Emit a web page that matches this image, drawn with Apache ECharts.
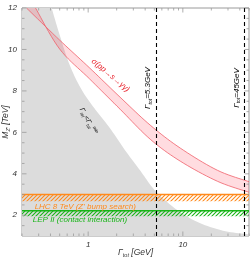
<!DOCTYPE html>
<html><head><meta charset="utf-8">
<script src="https://cdn.jsdelivr.net/npm/echarts@6/dist/echarts.min.js"></script>
<style>html,body{margin:0;padding:0;background:#fff}#c{width:250px;height:258px}</style>
</head><body><div id="c"></div>
<script>
// axis ranges
const xMin = 0.2, xMax = 50, yMin = 1, yMax = 12;
// tick positions
const xMajorTicks = [1, 10];
const xMinorTicks = [0.2,0.3,0.4,0.5,0.6,0.7,0.8,0.9,2,3,4,5,6,7,8,9,20,30,40,50];
const yMajorTicks = [2,4,6,8,10,12];
const yMinorTicks = [1.5,2.5,3,3.5,4.5,5,5.5,6.5,7,7.5,8.5,9,9.5,10.5,11,11.5];
// sigma(pp->s->gg) band
const bandUpperX = [0.223,0.50,1.04,2.17,4.52,9.40,23.2,50];
const bandUpperY = [12,10.45,9.10,7.70,6.35,5.24,4.17,3.62];
const bandLowerX = [0.278,0.50,1.04,2.17,4.52,9.40,23.2,50];
const bandLowerY = [12,10.02,8.57,7.12,5.67,4.61,3.64,3.11];
// Gamma_tot < Gamma_min boundary
const grayX = [0.411,0.500,0.638,0.857,1.205,1.70,2.45,3.53,4.85,6.51,9.40,15.3,28.2,50];
const grayY = [12,10.70,9.25,8.04,7.07,6.20,5.14,4.17,3.30,2.72,2.15,1.61,1.23,1.08];
// exclusion limits [line, hatch bottom]
const lhcLimit = [3.0, 2.68];
const lepLimit = [2.22, 1.95];
// width reference lines
const widthLines = [5.3, 45];

const FONT = '"Liberation Sans", Arial, sans-serif';

function spline(pts, seg) {
  if (pts.length < 3) return pts;
  const out = [];
  for (let i = 0; i < pts.length - 1; i++) {
    const p0 = pts[Math.max(i-1,0)], p1 = pts[i], p2 = pts[i+1], p3 = pts[Math.min(i+2,pts.length-1)];
    for (let t = 0; t < seg; t++) {
      const s = t/seg, s2 = s*s, s3 = s2*s;
      const f = k => 0.5*((2*p1[k]) + (-p0[k]+p2[k])*s + (2*p0[k]-5*p1[k]+4*p2[k]-p3[k])*s2 + (-p0[k]+3*p1[k]-3*p2[k]+p3[k])*s3);
      out.push([f(0), f(1)]);
    }
  }
  out.push(pts[pts.length-1]);
  return out;
}
function hatch(color) {
  const c = document.createElement('canvas'); c.width = 4; c.height = 4;
  const g = c.getContext('2d'); g.strokeStyle = color; g.lineWidth = 1.1;
  g.beginPath();
  g.moveTo(0,4); g.lineTo(4,0);
  g.moveTo(-1,1); g.lineTo(1,-1);
  g.moveTo(3,5); g.lineTo(5,3);
  g.stroke();
  return c;
}
const orange = '#ff8a1c', green = '#17b417';
const orangeHatch = hatch(orange), greenHatch = hatch(green);

const chart = echarts.init(document.getElementById('c'));
const sub = {fontSize: 5.5, fontStyle:'italic', fontFamily: FONT, color:'#333', verticalAlign:'bottom', lineHeight: 10, padding:[3,0,0,0]};
const main = {fontSize: 8.5, fontStyle:'italic', fontFamily: FONT, color:'#333', lineHeight: 10};

chart.setOption({
  animation: false,
  grid: {left: 22, right: 1, top: 8, bottom: 22, containLabel: false, outerBoundsMode: 'none',
         show: true, borderColor: '#9a9a9a', borderWidth: 1},
  xAxis: {
    type: 'log', min: xMin, max: xMax, logBase: 10,
    axisLine: {show: false}, axisTick: {show: false}, splitLine: {show: false},
    axisLabel: {
      margin: 5, fontSize: 8, fontStyle: 'italic', fontFamily: FONT, color: '#333',
      showMinLabel: false, showMaxLabel: false,
      formatter: v => xMajorTicks.some(t => Math.abs(t - v) < 1e-6 * t) ? String(Math.round(v)) : ''
    },
    name: '{g|Γ}{s|tot}{g| [GeV]}', nameLocation: 'middle', nameGap: 12, nameMoveOverlap: false,
    nameTextStyle: {rich: {g: main, s: sub}}
  },
  yAxis: {
    type: 'value', min: yMin, max: yMax, interval: 1,
    axisLine: {show: false}, axisTick: {show: false}, splitLine: {show: false},
    axisLabel: {
      margin: 5, fontSize: 8, fontStyle: 'italic', fontFamily: FONT, color: '#333',
      formatter: v => yMajorTicks.indexOf(v) >= 0 ? String(v) : ''
    },
    name: '{g|M}{s|Z′}{g| [TeV]}', nameLocation: 'middle', nameGap: 11, nameMoveOverlap: false,
    nameTextStyle: {rich: {g: main, s: sub}}
  },
  series: [
    { // gray region
      type: 'custom', clip: true, z: 1, data: [[xMin, yMin]],
      renderItem: (p, api) => {
        const edge = spline(grayX.map((x,i) => api.coord([x, grayY[i]])), 10);
        const pts = [api.coord([xMin, yMax])].concat(edge, [api.coord([xMax, yMin]), api.coord([xMin, yMin])]);
        return {type: 'polygon', shape: {points: pts}, style: {fill: '#dcdcdc'}};
      }
    },
    { // hatched limits
      type: 'custom', clip: true, z: 2, data: [[xMin, yMin]],
      renderItem: (p, api) => {
        const els = [];
        [[lhcLimit, orange, orangeHatch], [lepLimit, green, greenHatch]].forEach(([lim, col, pat]) => {
          const a = api.coord([xMin, lim[0]]), b = api.coord([xMax, lim[1]]);
          els.push({type: 'rect', shape: {x: a[0], y: a[1], width: b[0]-a[0], height: b[1]-a[1]},
                    style: {fill: {image: pat, repeat: 'repeat'}}});
          els.push({type: 'line', shape: {x1: a[0], y1: a[1], x2: b[0], y2: a[1]},
                    style: {stroke: col, lineWidth: 1.6}});
        });
        return {type: 'group', children: els};
      }
    },
    { // sigma band
      type: 'custom', clip: true, z: 3, data: [[xMin, yMin]],
      renderItem: (p, api) => {
        const up = spline(bandUpperX.map((x,i) => api.coord([x, bandUpperY[i]])), 10);
        const lo = spline(bandLowerX.map((x,i) => api.coord([x, bandLowerY[i]])), 10);
        return {type: 'group', children: [
          {type: 'polygon', shape: {points: up.concat(lo.slice().reverse())}, style: {fill: 'rgba(255,40,60,0.16)'}},
          {type: 'polyline', shape: {points: up}, style: {stroke: '#f0606a', lineWidth: 0.8, fill: null}},
          {type: 'polyline', shape: {points: lo}, style: {stroke: '#f0606a', lineWidth: 0.8, fill: null}}
        ]};
      }
    },
    { // dashed width lines
      type: 'line', data: [], z: 4,
      markLine: {
        silent: true, symbol: 'none', label: {show: false},
        lineStyle: {color: '#000', type: [4, 3], width: 1.1},
        data: widthLines.map(v => ({xAxis: v}))
      }
    },
    { // ticks
      type: 'custom', clip: false, z: 5, data: [[xMin, yMin]],
      renderItem: (p, api) => {
        const els = [];
        const st = {stroke: '#9a9a9a', lineWidth: 0.8};
        const yb = api.coord([xMin, yMin])[1], yt = api.coord([xMin, yMax])[1];
        const xl = api.coord([xMin, yMin])[0], xr = api.coord([xMax, yMin])[0];
        const addX = (v, len) => {
          const x = api.coord([v, yMin])[0];
          els.push({type: 'line', shape: {x1: x, y1: yb, x2: x, y2: yb - len}, style: st});
          els.push({type: 'line', shape: {x1: x, y1: yt, x2: x, y2: yt + len}, style: st});
        };
        const addY = (v, len) => {
          const y = api.coord([xMin, v])[1];
          els.push({type: 'line', shape: {x1: xl, y1: y, x2: xl + len, y2: y}, style: st});
          els.push({type: 'line', shape: {x1: xr, y1: y, x2: xr - len, y2: y}, style: st});
        };
        xMajorTicks.forEach(v => addX(v, 4.5));
        xMinorTicks.forEach(v => addX(v, 2.5));
        yMajorTicks.forEach(v => addY(v, 4.5));
        yMinorTicks.forEach(v => addY(v, 2.5));
        return {type: 'group', children: els};
      }
    },
    { // labels
      type: 'custom', clip: false, z: 6, data: [[xMin, yMin]],
      renderItem: (p, api) => {
        const t = (pos, rot, text, style) => {
          const c = api.coord(pos);
          return {type: 'text', x: c[0], y: c[1], rotation: rot * Math.PI / 180,
                  style: Object.assign({text: text, align: 'center', verticalAlign: 'middle',
                    fontFamily: FONT, fontStyle: 'italic'}, style)};
        };
        const g = Object.assign({}, main, {fontSize: 8});
        const s = Object.assign({}, sub, {fontSize: 5});
        return {type: 'group', children: [
          t([1.72, 8.75], -40, 'σ(pp→s→γγ)', {fill: '#e8202a', fontSize: 8}),
          t([4.31, 8.14], 90, '{g|Γ}{s|tot}{g|=5.3GeV}', {rich: {g: g, s: s}}),
          t([36.9, 8.14], 90, '{g|Γ}{s|tot}{g|=45GeV}', {rich: {g: g, s: s}}),
          t([1.0, 6.54], -62, '{g|Γ}{s|tot}{g|<Γ}{s|tot}{u|min}', {rich: {
            g: Object.assign({}, g, {fontSize: 7}), s: Object.assign({}, s, {fontSize: 4.5}),
            u: Object.assign({}, s, {fontSize: 4.5, verticalAlign: 'top', padding: [0,0,4,0]})}}),
          t([0.272, 2.43], 0, "LHC 8 TeV (Z' bump search)", {fill: orange, fontSize: 8, align: 'left'}),
          t([0.26, 1.76], 0, 'LEP II (contact interaction)', {fill: green, fontSize: 8, align: 'left'})
        ]};
      }
    }
  ]
});
</script>
</body></html>
